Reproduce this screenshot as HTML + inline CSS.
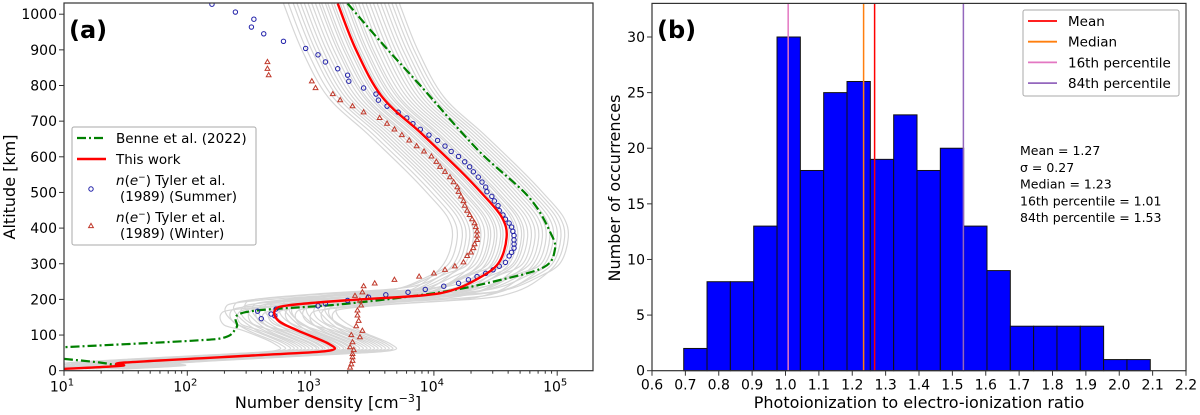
<!DOCTYPE html>
<html><head><meta charset="utf-8">
<style>
html,body{margin:0;padding:0;background:#fff;}
svg{display:block;font-family:"DejaVu Sans","Liberation Sans",sans-serif;}
</style></head>
<body>
<svg id="fig" width="1200" height="415" viewBox="0 0 1200 415" xmlns="http://www.w3.org/2000/svg">
<rect width="1200" height="415" fill="#fff"/>
<g id="pa"></g>
<g id="pb"></g>
</svg>
<script>
// ---- Panel (a) data: [log10 density, altitude km]
const redLog=[3.22,3.37,3.58,3.90,4.21,4.39,4.55,4.59,4.52,4.33,4.14,3.90,3.27,2.81,2.71,2.74,2.90,3.15,3.15,2.65,1.50,1.47,1.0];
const redAlt=[1030,899,768,665,562,497,431,374,300,253,225,211,197,183,169,140,112,75,56,45,23,14,5];
const greenLog=[3.30,3.58,3.90,4.36,4.77,4.95,4.98,4.89,4.52,4.05,3.27,2.47,2.40,2.31,2.03,1.0];
const greenAlt=[1030,918,796,618,487,384,337,290,253,220,187,164,122,94,84,66];
const green2Log=[1.0,1.29,1.44];
const green2Alt=[33,23,14];
const summerLog=[2.20,2.39,2.52,2.54,2.62,2.78,2.96,3.06,3.12,3.22,3.30,3.31,3.43,3.53,3.55,3.62,3.71,3.78,3.83,3.89,3.96,4.03,4.09,4.14,4.20,4.25,4.29,4.32,4.36,4.39,4.42,4.43,4.47,4.49,4.52,4.53,4.56,4.58,4.61,4.63,4.64,4.65,4.65,4.65,4.65,4.63,4.61,4.58,4.53,4.48,4.42,4.35,4.28,4.20,4.08,3.93,3.79,3.61,3.47,3.30,3.12,3.06,2.72,2.57,2.68,2.71,2.60];
const summerAlt=[1028,1006,964,986,945,924,904,886,866,847,829,812,793,776,759,742,725,709,693,677,661,646,630,615,601,586,572,558,543,529,515,502,489,476,463,449,437,425,414,403,391,379,367,355,344,332,322,304,293,283,273,264,255,245,237,228,220,213,206,197,188,182,173,167,159,154,146];
const winterLog=[2.65,2.65,2.66,3.01,3.04,3.18,3.24,3.34,3.43,3.56,3.62,3.68,3.74,3.80,3.86,3.92,3.98,4.02,4.05,4.09,4.13,4.16,4.19,4.20,4.22,4.24,4.25,4.27,4.29,4.31,4.33,4.34,4.35,4.35,4.35,4.33,4.32,4.30,4.27,4.24,4.17,4.09,4.00,3.88,3.68,3.52,3.43,3.42,3.46,3.40,3.41,3.38,3.39,3.42,3.40,3.34,3.32,3.34,3.34,3.32,3.36,3.38,3.37,3.33,3.35,3.34,3.33];
const winterAlt=[866,847,829,812,793,776,759,742,725,709,693,677,661,646,630,615,601,586,572,558,543,529,515,502,489,476,463,449,437,425,414,403,391,379,367,355,344,332,322,304,293,283,273,264,255,245,237,220,206,197,183,169,140,112,94,80,66,47,28,9,210,155,125,100,58,38,18];
const ensembleShift=[-0.44,-0.40,-0.36,-0.33,-0.30,-0.27,-0.24,-0.21,-0.18,-0.15,-0.13,-0.10,-0.08,-0.05,-0.03,0,0.02,0.04,0.07,0.09,0.12,0.14,0.17,0.2,0.23,0.26,0.29,0.32,0.35,0.38,0.41,0.44,0.47,0.5];
const ensembleAltShift=[-12,8,-5,14,-10,4,18,-8,10,-3,6,-14,12,-6,16,2,-10,8,20,-4,12,6,-8,15,-2,9,-12,5,18,-6,11,3,-9,7];
const aYTicks=[0,100,200,300,400,500,600,700,800,900,1000];
const aXTicks=[1,2,3,4,5];
// ---- Panel (b) data
const binStart=0.695, binWidth=0.0699;
const counts=[2,8,8,13,30,18,25,26,19,23,18,20,13,9,4,4,4,4,1,1];
const statNames=["Mean","Median","16th percentile","84th percentile"];
const statValues=[1.267,1.234,1.008,1.533];
const statColors=["#ff0000","#ff7f0e","#e377c2","#9467bd"];
const bXTicks=[0.6,0.7,0.8,0.9,1.0,1.1,1.2,1.3,1.4,1.5,1.6,1.7,1.8,1.9,2.0,2.1,2.2];
const bYTicks=[0,5,10,15,20,25,30];
const statsText=["Mean = 1.27","σ = 0.27","Median = 1.23","16th percentile = 1.01","84th percentile = 1.53"];

const NS="http://www.w3.org/2000/svg";
function mk(parent,tag,attrs,text){const e=document.createElementNS(NS,tag);for(const k in attrs)e.setAttribute(k,attrs[k]);if(text!==undefined)e.textContent=text;parent.appendChild(e);return e;}

// Panel a scales
const AX0=64,AX1=593,AY0=370.7,AY1=3;
const ax=l=>AX0+(l-1)*123.3;
const ay=a=>AY0-a*0.3565;
const pa=document.getElementById('pa');
const clip=mk(pa,'clipPath',{id:'clipA'});mk(clip,'rect',{x:AX0,y:AY1,width:AX1-AX0,height:AY0-AY1});
const plotA=mk(pa,'g',{'clip-path':'url(#clipA)'});

function smooth(P){
  if(P.length<3)return P.map((p,i)=>(i?'L':'M')+p[0].toFixed(1)+','+p[1].toFixed(1)).join(' ');
  let d='M'+P[0][0].toFixed(1)+','+P[0][1].toFixed(1);
  for(let i=0;i<P.length-1;i++){
    const p0=P[Math.max(0,i-1)],p1=P[i],p2=P[i+1],p3=P[Math.min(P.length-1,i+2)];
    const c1=[p1[0]+(p2[0]-p0[0])/6,p1[1]+(p2[1]-p0[1])/6];
    const c2=[p2[0]-(p3[0]-p1[0])/6,p2[1]-(p3[1]-p1[1])/6];
    d+=` C${c1[0].toFixed(1)},${c1[1].toFixed(1)} ${c2[0].toFixed(1)},${c2[1].toFixed(1)} ${p2[0].toFixed(1)},${p2[1].toFixed(1)}`;
  }
  return d;
}
function pathD(L,A,dl,da){return smooth(L.map((l,i)=>[ax(l+(dl||0)),ay(A[i]+((A[i]>130&&A[i]<260)?(da||0):0))]));}
ensembleShift.forEach((s,i)=>{
  const p=mk(plotA,'path',{d:pathD(redLog,redAlt,s,ensembleAltShift[i]),fill:'none',stroke:'#d6d6d6','stroke-width':1.2});
  
  
});
let g=mk(plotA,'path',{d:pathD(greenLog,greenAlt),fill:'none',stroke:'#008000','stroke-width':2.2,'stroke-dasharray':'9,3,2,3'});

g=mk(plotA,'path',{d:pathD(green2Log,green2Alt),fill:'none',stroke:'#008000','stroke-width':2.2,'stroke-dasharray':'9,3,2,3'});

winterLog.forEach((l,i)=>{
  const x=ax(l),y=ay(winterAlt[i]);
  const t=mk(plotA,'path',{d:`M${x},${y-2.6} L${x+2.4},${y+1.6} L${x-2.4},${y+1.6} Z`,fill:'none',stroke:'#c0392b','stroke-width':1});
  
  
});
summerLog.forEach((l,i)=>{
  const c=mk(plotA,'circle',{cx:ax(l),cy:ay(summerAlt[i]),r:2.2,fill:'none',stroke:'#1f1fa8','stroke-width':1});
  
  
});
g=mk(plotA,'path',{d:pathD(redLog,redAlt),fill:'none',stroke:'#ff0000','stroke-width':2.4});

mk(pa,'rect',{x:AX0,y:AY1,width:AX1-AX0,height:AY0-AY1,fill:'none',stroke:'#333','stroke-width':1.2});
aYTicks.forEach(v=>{
  mk(pa,'line',{x1:AX0-5,x2:AX0,y1:ay(v),y2:ay(v),stroke:'#333'});
  const t=mk(pa,'text',{x:AX0-7,y:ay(v)+5,'text-anchor':'end','font-size':14},String(v));
  
});
for(let d=1;d<=5;d++){for(let m=2;m<=9;m++){const l=d+Math.log10(m);if(ax(l)<AX1)mk(pa,'line',{x1:ax(l),x2:ax(l),y1:AY0,y2:AY0+3,stroke:'#333'});}}
aXTicks.forEach(v=>{
  mk(pa,'line',{x1:ax(v),x2:ax(v),y1:AY0,y2:AY0+5,stroke:'#333'});
  const t=mk(pa,'text',{x:ax(v)-2,y:AY0+21,'text-anchor':'middle','font-size':14});
  mk(t,'tspan',{},'10');mk(t,'tspan',{dy:-6,'font-size':10},String(v));
  
});
let t=mk(pa,'text',{x:328,y:408,'text-anchor':'middle','font-size':16});
mk(t,'tspan',{},'Number density [cm');mk(t,'tspan',{dy:-6,'font-size':11},'−3');mk(t,'tspan',{dy:6},']');

t=mk(pa,'text',{x:0,y:0,'text-anchor':'middle','font-size':16,transform:'translate(15,187) rotate(-90)'},'Altitude [km]');

t=mk(pa,'text',{x:69,y:38,'font-size':24,'font-weight':'bold'},'(a)');

// legend a
const la=mk(pa,'g',{});
mk(la,'rect',{x:72,y:127,width:184,height:118,rx:2,fill:'#fff',stroke:'#aaa','stroke-width':1});
mk(la,'line',{x1:77,x2:106,y1:138,y2:138,stroke:'#008000','stroke-width':2.2,'stroke-dasharray':'9,3,2,3'});
mk(la,'text',{x:116,y:143,'font-size':13.5},'Benne et al. (2022)');
mk(la,'line',{x1:77,x2:106,y1:159,y2:159,stroke:'#ff0000','stroke-width':2.4});
mk(la,'text',{x:116,y:164,'font-size':13.5},'This work');
mk(la,'circle',{cx:91,cy:189,r:2.2,fill:'none',stroke:'#1f1fa8'});
t=mk(la,'text',{x:116,y:185,'font-size':13.5});mk(t,'tspan',{'font-style':'italic'},'n');mk(t,'tspan',{},'(');mk(t,'tspan',{'font-style':'italic'},'e');mk(t,'tspan',{dy:-5,'font-size':9},'−');mk(t,'tspan',{dy:5},') Tyler et al.');
mk(la,'text',{x:120,y:201,'font-size':13.5},'(1989) (Summer)');
mk(la,'path',{d:'M91,223.4 L93.4,227.6 L88.6,227.6 Z',fill:'none',stroke:'#c0392b'});
t=mk(la,'text',{x:116,y:222,'font-size':13.5});mk(t,'tspan',{'font-style':'italic'},'n');mk(t,'tspan',{},'(');mk(t,'tspan',{'font-style':'italic'},'e');mk(t,'tspan',{dy:-5,'font-size':9},'−');mk(t,'tspan',{dy:5},') Tyler et al.');
mk(la,'text',{x:120,y:238,'font-size':13.5},'(1989) (Winter)');

// Panel b
const BX0=652,BX1=1186,BY0=370.7,BY1=3.4;
const bx=v=>BX0+(v-0.6)*(BX1-BX0)/1.6;
const by=v=>BY0-v*(BY0-37)/30;
const pb=document.getElementById('pb');
counts.forEach((c,i)=>{
  const x0=bx(binStart+i*binWidth),x1=bx(binStart+(i+1)*binWidth);
  const r=mk(pb,'rect',{x:x0,y:by(c),width:x1-x0,height:BY0-by(c),fill:'#0000ff',stroke:'#111','stroke-width':1});
  
  
});
statValues.forEach((v,i)=>{
  const l=mk(pb,'line',{x1:bx(v),x2:bx(v),y1:BY1,y2:BY0,stroke:statColors[i],'stroke-width':1.5});
  
  
});
mk(pb,'rect',{x:BX0,y:BY1,width:BX1-BX0,height:BY0-BY1,fill:'none',stroke:'#333','stroke-width':1.2});
bYTicks.forEach(v=>{
  mk(pb,'line',{x1:BX0-5,x2:BX0,y1:by(v),y2:by(v),stroke:'#333'});
  const t=mk(pb,'text',{x:BX0-7,y:by(v)+5,'text-anchor':'end','font-size':14},String(v));
  
});
bXTicks.forEach(v=>{
  mk(pb,'line',{x1:bx(v),x2:bx(v),y1:BY0,y2:BY0+5,stroke:'#333'});
  const t=mk(pb,'text',{x:bx(v),y:BY0+19,'text-anchor':'middle','font-size':14},v.toFixed(1));
  
});
t=mk(pb,'text',{x:919,y:408,'text-anchor':'middle','font-size':16},'Photoionization to electro-ionization ratio');

t=mk(pb,'text',{x:0,y:0,'text-anchor':'middle','font-size':16,transform:'translate(620,188) rotate(-90)'},'Number of occurrences');

t=mk(pb,'text',{x:657,y:38,'font-size':24,'font-weight':'bold'},'(b)');

const lb=mk(pb,'g',{});
mk(lb,'rect',{x:1023,y:10,width:156,height:86,rx:2,fill:'#fff',stroke:'#aaa'});
statNames.forEach((n,i)=>{
  const y=21+i*20.7;
  mk(lb,'line',{x1:1028,x2:1057,y1:y,y2:y,stroke:statColors[i],'stroke-width':1.8});
  const e=mk(lb,'text',{x:1068,y:y+5,'font-size':13.5},n);
  
  
});
statsText.forEach((s,i)=>{
  const e=mk(pb,'text',{x:1020,y:155+i*16.8,'font-size':12.5},s);
  
  
});
</script>
</body></html>
